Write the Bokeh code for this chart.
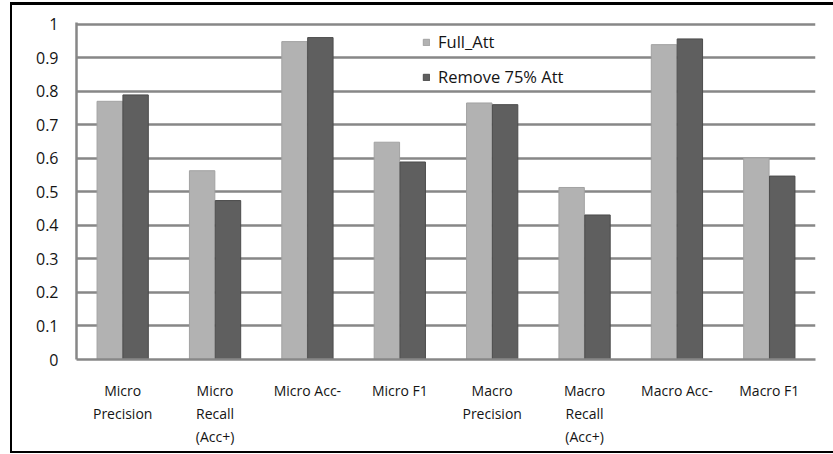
from bokeh.plotting import figure
from bokeh.models import ColumnDataSource, Range1d, Legend, LegendItem, FixedTicker
from bokeh.transform import dodge
from bokeh.embed import file_html
from bokeh.resources import INLINE

categories = ["Micro\nPrecision", "Micro\nRecall\n(Acc+)", "Micro Acc-", "Micro F1",
              "Macro\nPrecision", "Macro\nRecall\n(Acc+)", "Macro Acc-", "Macro F1"]
full_att = [0.770, 0.563, 0.948, 0.648, 0.765, 0.513, 0.939, 0.601]
remove_75 = [0.789, 0.474, 0.960, 0.589, 0.760, 0.431, 0.956, 0.547]
series_names = ["Full_Att", "Remove 75% Att"]
y_ticks = [0, 0.1, 0.2, 0.3, 0.4, 0.5, 0.6, 0.7, 0.8, 0.9, 1.0]
y_tick_labels = ["0", "0.1", "0.2", "0.3", "0.4", "0.5", "0.6", "0.7", "0.8", "0.9", "1"]

source = ColumnDataSource(dict(cat=categories, full=full_att, rem=remove_75))

FONT = "Open Sans"
TEXT_COLOR = "#141414"

p = figure(x_range=categories, y_range=Range1d(0, 1.005),
           width=823, height=451, output_backend="svg", toolbar_location=None,
           min_border_left=64, min_border_right=20, min_border_top=17, min_border_bottom=97)
p.styles = {"border-top": "3px solid black", "border-left": "2px solid black",
            "border-bottom": "2px solid black", "margin-top": "2px", "margin-left": "10px"}

r1 = p.vbar(x=dodge("cat", -0.14, range=p.x_range), top="full", width=0.275, source=source,
            fill_color="#b2b2b2", line_color="#a2a2a2", line_width=1)
r2 = p.vbar(x=dodge("cat", 0.14, range=p.x_range), top="rem", width=0.275, source=source,
            fill_color="#5f5f5f", line_color="#4c4c4c", line_width=1)

p.outline_line_color = None
p.xgrid.grid_line_color = None
p.ygrid.grid_line_color = "#878787"
p.ygrid.grid_line_width = 2.5
p.ygrid.ticker = FixedTicker(ticks=y_ticks)

p.yaxis.ticker = FixedTicker(ticks=y_ticks)
p.yaxis.major_label_overrides = {t: l for t, l in zip(y_ticks, y_tick_labels)}
p.yaxis.axis_line_color = "#878787"
p.yaxis.axis_line_width = 2.5
p.yaxis.major_tick_line_color = None
p.yaxis.minor_tick_line_color = None
p.yaxis.major_label_standoff = 12
p.yaxis.major_label_text_font = FONT
p.yaxis.major_label_text_font_size = "16px"
p.yaxis.major_label_text_color = TEXT_COLOR

p.xaxis.axis_line_color = "#878787"
p.xaxis.axis_line_width = 2.5
p.xaxis.major_tick_line_color = None
p.xaxis.minor_tick_line_color = None
p.xaxis.major_label_standoff = 15
p.xaxis.major_label_text_font = FONT
p.xaxis.major_label_text_font_size = "14px"
p.xaxis.major_label_text_color = TEXT_COLOR
p.xaxis.major_label_text_line_height = 1.22

legend = Legend(items=[LegendItem(label=series_names[0], renderers=[r1]),
                       LegendItem(label=series_names[1], renderers=[r2])],
                location=(346, 271), orientation="vertical",
                padding=0, margin=0, spacing=12, glyph_width=8, glyph_height=8,
                label_height=20, label_standoff=8,
                label_text_font=FONT, label_text_font_size="16.5px", label_text_color=TEXT_COLOR,
                border_line_color=None, background_fill_alpha=0)
p.add_layout(legend, "center")

open("out.html", "w").write(file_html(p, INLINE))
